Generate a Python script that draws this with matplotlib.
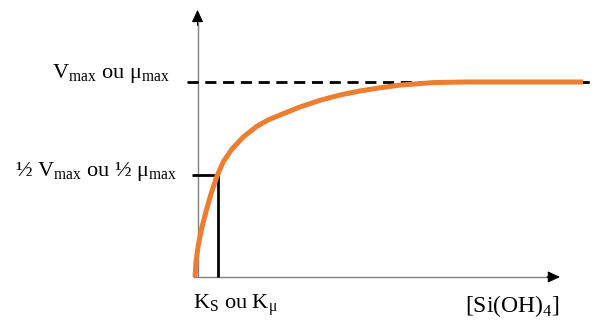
import matplotlib
matplotlib.use("Agg")
import matplotlib.pyplot as plt

# --- data (S in units of Ks, v as fraction of Vmax) ---
s_curve = [0.0, 0.043, 0.143, 0.291, 0.478, 0.683, 0.943, 1.23, 1.60, 2.10,
           2.68, 3.19, 3.70, 4.57, 5.43, 6.30, 7.17, 7.97, 8.91, 10.35,
           11.83, 16.87]
v_curve = [0.0, 0.078, 0.164, 0.250, 0.335, 0.421, 0.514, 0.591, 0.655, 0.718,
           0.772, 0.806, 0.831, 0.872, 0.906, 0.933, 0.954, 0.969, 0.984, 0.997,
           1.0, 1.0]
ks = 1.0
v_half = 0.523
v_max = 1.0

label_vmax = r"V$_{\rm max}$ ou μ$_{\rm max}$"
label_half = r"½ V$_{\rm max}$ ou ½ μ$_{\rm max}$"
label_ks = r"K$_{\rm S}$ ou K$_{\rm μ}$"
label_x = r"[Si(OH)$_{\rm 4}$]"

plt.rcParams["font.family"] = ["Liberation Serif", "DejaVu Serif"]
plt.rcParams["mathtext.fontset"] = "custom"
plt.rcParams["mathtext.rm"] = "Liberation Serif"

fig = plt.figure(figsize=(5.95, 3.22), dpi=100)
ax = fig.add_axes([0, 0, 1, 1])
ax.set_xlim(-8.478, 17.39)
ax.set_ylim(-0.2308, 1.4205)
ax.axis("off")

axis_grey = "#808080"
# axes with arrow heads
ax.plot([-0.09, 15.4], [0, 0], color=axis_grey, lw=1.0, solid_capstyle="butt")
ax.plot([0.11, 0.11], [0, 1.31], color=axis_grey, lw=1.0, solid_capstyle="butt")
ax.annotate("", xy=(15.87, 0), xytext=(15.3, 0),
            arrowprops=dict(arrowstyle="-|>,head_length=0.75,head_width=0.35",
                            color="black", lw=0.8, shrinkA=0, shrinkB=0))
ax.annotate("", xy=(0.11, 1.37), xytext=(0.11, 1.29),
            arrowprops=dict(arrowstyle="-|>,head_length=0.75,head_width=0.35",
                            color="black", lw=0.8, shrinkA=0, shrinkB=0))

# asymptote
ax.plot([-0.35, 17.4], [v_max, v_max], color="black", lw=2.0,
        dashes=(4, 2.4), dash_capstyle="butt")

# half-saturation guides
ax.plot([-0.13, ks], [v_half, v_half], color="black", lw=2.0, solid_capstyle="butt")
ax.plot([ks, ks], [0, v_half], color="black", lw=2.0, solid_capstyle="butt")

# curve
ax.plot(s_curve, v_curve, color="#ED7D31", lw=3.6, solid_capstyle="butt",
        solid_joinstyle="round")

fs = 16
ax.text(-1.09, 1.02, label_vmax, fontsize=fs, ha="right", va="baseline")
ax.text(-0.78, 0.518, label_half, fontsize=fs, ha="right", va="baseline")
ax.text(-0.09, -0.164, label_ks, fontsize=fs, ha="left", va="baseline")
ax.text(13.78, -0.18, label_x, fontsize=fs + 1, ha="center", va="baseline")

fig.savefig("out.png", dpi=100, facecolor="white")
